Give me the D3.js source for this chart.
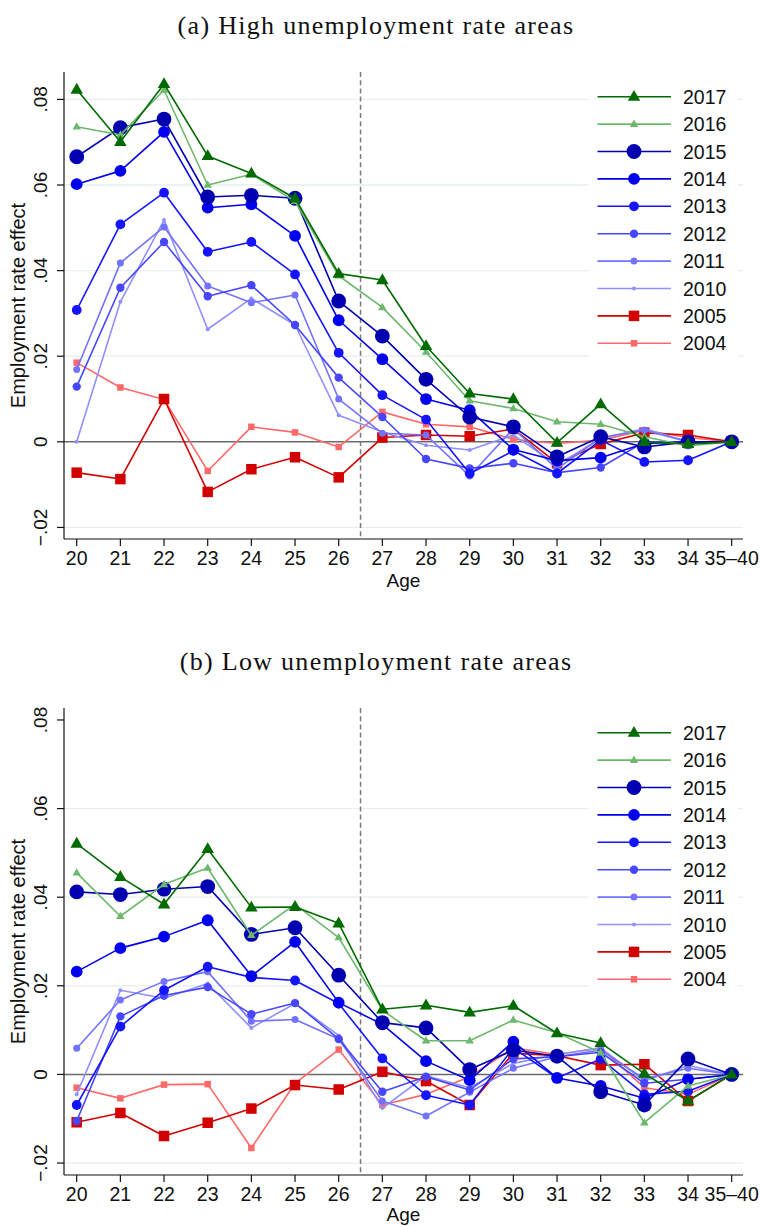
<!DOCTYPE html>
<html>
<head>
<meta charset="utf-8">
<script src="https://cdn.jsdelivr.net/npm/d3@7"></script>
<style>
  body { margin: 0; background: #fff; }
  svg { display: block; }
</style>
</head>
<body>
<svg id="chart" width="761" height="1226"></svg>
<script>
// Age groups on the x axis
const ages = ["20","21","22","23","24","25","26","27","28","29","30","31","32","33","34","35–40"];
// Cohort years, in legend order
const years = ["2017","2016","2015","2014","2013","2012","2011","2010","2005","2004"];
const yTicks = [-0.02, 0, 0.02, 0.04, 0.06, 0.08];

// (a) High unemployment rate areas
const high2017 = [0.0823, 0.0701, 0.0836, 0.0668, 0.0627, 0.0569, 0.0393, 0.0378, 0.0224, 0.0113, 0.0100, -0.0002, 0.0088, 0.0000, -0.0005, 0];
const high2016 = [0.0736, 0.0717, 0.0822, 0.0600, 0.0625, 0.0562, 0.0388, 0.0314, 0.0210, 0.0096, 0.0078, 0.0047, 0.0041, 0.0012, -0.0009, 0];
const high2015 = [0.0666, 0.0734, 0.0754, 0.0572, 0.0576, 0.0569, 0.0329, 0.0247, 0.0146, 0.0058, 0.0035, -0.0035, 0.0012, -0.0012, 0.0000, 0];
const high2014 = [0.0602, 0.0633, 0.0724, 0.0547, 0.0555, 0.0481, 0.0284, 0.0193, 0.0100, 0.0074, -0.0018, -0.0044, -0.0037, -0.0004, 0.0000, 0];
const high2013 = [0.0308, 0.0508, 0.0582, 0.0444, 0.0467, 0.0391, 0.0208, 0.0109, 0.0052, -0.0074, -0.0021, -0.0074, 0.0004, -0.0047, -0.0043, 0];
const high2012 = [0.0129, 0.0360, 0.0467, 0.0340, 0.0366, 0.0273, 0.0150, 0.0058, -0.0040, -0.0062, -0.0050, -0.0072, -0.0060, 0.0000, 0.0000, 0];
const high2011 = [0.0169, 0.0418, 0.0502, 0.0364, 0.0325, 0.0343, 0.0100, 0.0020, 0.0016, -0.0080, 0.0031, -0.0063, 0.0010, 0.0027, 0.0000, 0];
const high2010 = [0.0000, 0.0327, 0.0518, 0.0263, 0.0335, 0.0273, 0.0062, 0.0023, -0.0008, -0.0019, 0.0016, -0.0054, 0.0008, 0.0031, 0.0000, 0];
const high2005 = [-0.0072, -0.0087, 0.0100, -0.0117, -0.0064, -0.0036, -0.0083, 0.0010, 0.0016, 0.0013, 0.0030, -0.0050, -0.0005, 0.0021, 0.0016, 0];
const high2004 = [0.0185, 0.0127, 0.0099, -0.0068, 0.0035, 0.0022, -0.0012, 0.0070, 0.0041, 0.0035, 0.0006, -0.0004, 0.0004, 0.0027, 0.0010, 0];

// (b) Low unemployment rate areas
const low2017 = [0.0521, 0.0446, 0.0384, 0.0509, 0.0377, 0.0378, 0.0341, 0.0147, 0.0156, 0.0140, 0.0155, 0.0093, 0.0071, 0.0002, -0.0060, 0];
const low2016 = [0.0455, 0.0357, 0.0429, 0.0466, 0.0314, 0.0384, 0.0309, 0.0145, 0.0076, 0.0076, 0.0123, 0.0094, 0.0049, -0.0109, -0.0026, 0];
const low2015 = [0.0412, 0.0406, 0.0418, 0.0424, 0.0316, 0.0331, 0.0224, 0.0117, 0.0105, 0.0011, 0.0055, 0.0041, -0.0039, -0.0069, 0.0035, 0];
const low2014 = [0.0232, 0.0285, 0.0311, 0.0348, 0.0222, 0.0299, 0.0162, 0.0113, 0.0030, -0.0013, 0.0074, -0.0008, -0.0026, -0.0054, -0.0011, 0];
const low2013 = [-0.0069, 0.0108, 0.0190, 0.0243, 0.0219, 0.0212, 0.0160, 0.0036, -0.0047, -0.0069, 0.0060, -0.0008, 0.0035, -0.0045, -0.0038, 0];
const low2012 = [-0.0105, 0.0131, 0.0178, 0.0197, 0.0136, 0.0161, 0.0080, -0.0039, -0.0005, -0.0035, 0.0035, 0.0040, 0.0050, -0.0020, -0.0011, 0];
const low2011 = [0.0059, 0.0168, 0.0210, 0.0232, 0.0120, 0.0124, 0.0080, -0.0060, -0.0094, -0.0040, 0.0014, 0.0040, 0.0055, -0.0010, 0.0014, 0];
const low2010 = [-0.0045, 0.0190, 0.0172, 0.0205, 0.0105, 0.0160, 0.0088, -0.0076, -0.0003, -0.0030, 0.0025, 0.0045, 0.0060, -0.0015, 0.0020, 0];
const low2005 = [-0.0108, -0.0087, -0.0139, -0.0109, -0.0077, -0.0024, -0.0034, 0.0006, -0.0015, -0.0069, 0.0048, 0.0042, 0.0021, 0.0023, -0.0060, 0];
const low2004 = [-0.0030, -0.0054, -0.0023, -0.0022, -0.0166, -0.0020, 0.0056, -0.0069, -0.0045, -0.0005, 0.0060, 0.0045, 0.0060, -0.0030, -0.0045, 0];

// Line colour and marker for each cohort (same order as `years`)
const styles = [
  { color: "#006b00", shape: "triangle", size: 12.5 },
  { color: "#6cb86c", shape: "triangle", size: 8.5 },
  { color: "#0000b0", shape: "circle",   size: 7.4 },
  { color: "#0000ee", shape: "circle",   size: 5.9 },
  { color: "#1414ff", shape: "circle",   size: 4.9 },
  { color: "#4646ff", shape: "circle",   size: 4.2 },
  { color: "#7272ff", shape: "circle",   size: 3.5 },
  { color: "#9090ff", shape: "circle",   size: 2.0 },
  { color: "#d20000", shape: "square",   size: 10.5 },
  { color: "#ff6868", shape: "square",   size: 6.5 }
];

const panels = [
  {
    title: "(a) High unemployment rate areas",
    titleY: 33.5, top: 72, bottom: 539, yMin: -0.0227, yMax: 0.0864,
    series: [high2017, high2016, high2015, high2014, high2013, high2012, high2011, high2010, high2005, high2004],
    legendY: 96.7, ageY: 586.5, noGrid: []
  },
  {
    title: "(b) Low unemployment rate areas",
    titleY: 669.5, top: 708, bottom: 1175, yMin: -0.0227, yMax: 0.0827,
    series: [low2017, low2016, low2015, low2014, low2013, low2012, low2011, low2010, low2005, low2004],
    legendY: 732.7, ageY: 1220.5, noGrid: [0.08]
  }
];

const svg = d3.select("#chart");
const left = 64, right = 743;
const sans = "'Liberation Sans', Arial, Helvetica, sans-serif";
const serif = "'Liberation Serif', 'Times New Roman', serif";

const x = d3.scalePoint().domain(ages).range([76.7, 731.7]);

function fmtTick(v) {
  if (Math.abs(v) < 1e-9) return "0";
  return (v < 0 ? "\u2212" : "") + Math.abs(v).toFixed(2).replace(/^0/, "");
}

function drawMarker(g, shape, size, color, cx, cy) {
  if (shape === "circle") {
    g.append("circle").attr("cx", cx).attr("cy", cy).attr("r", size).attr("fill", color);
  } else if (shape === "square") {
    g.append("rect").attr("x", cx - size / 2).attr("y", cy - size / 2)
      .attr("width", size).attr("height", size).attr("fill", color);
  } else {
    const w = size, h = size * 0.866;
    g.append("path")
      .attr("d", `M${cx},${cy - h * 0.62}L${cx + w / 2},${cy + h * 0.38}L${cx - w / 2},${cy + h * 0.38}Z`)
      .attr("fill", color);
  }
}

panels.forEach(p => {
  const g = svg.append("g");
  const y = d3.scaleLinear().domain([p.yMin, p.yMax]).range([p.bottom, p.top]);

  // title
  g.append("text")
    .attr("x", 376).attr("y", p.titleY)
    .attr("text-anchor", "middle")
    .attr("font-family", serif).attr("font-size", 26)
    .attr("letter-spacing", 1.3)
    .attr("fill", "#111")
    .text(p.title);

  // light horizontal grid
  g.selectAll(".grid")
    .data(yTicks.filter(t => t !== 0 && !p.noGrid.includes(t)))
    .enter().append("line")
    .attr("x1", left).attr("x2", right)
    .attr("y1", d => y(d)).attr("y2", d => y(d))
    .attr("stroke", "#e6eef1").attr("stroke-width", 1.3);

  // legend background
  const rowH = 27.4;
  g.append("rect")
    .attr("x", 588).attr("y", p.legendY - 14)
    .attr("width", 150).attr("height", rowH * (years.length - 1) + 28)
    .attr("fill", "#fff");

  // zero reference line
  g.append("line")
    .attr("x1", left).attr("x2", right)
    .attr("y1", y(0)).attr("y2", y(0))
    .attr("stroke", "#6a6a6a").attr("stroke-width", 1.5);

  // dashed cut-off between 26 and 27
  const xCut = (x("26") + x("27")) / 2;
  g.append("line")
    .attr("x1", xCut).attr("x2", xCut)
    .attr("y1", p.top).attr("y2", p.bottom)
    .attr("stroke", "#7a7a7a").attr("stroke-width", 1.5)
    .attr("stroke-dasharray", "5,3.2");

  // y axis
  g.append("line").attr("x1", left).attr("x2", left).attr("y1", p.top).attr("y2", p.bottom)
    .attr("stroke", "#111").attr("stroke-width", 1.2);
  yTicks.forEach(t => {
    g.append("line").attr("x1", left - 7).attr("x2", left).attr("y1", y(t)).attr("y2", y(t))
      .attr("stroke", "#111").attr("stroke-width", 1.2);
    g.append("text")
      .attr("transform", `translate(47,${y(t)}) rotate(-90)`)
      .attr("text-anchor", "middle")
      .attr("font-family", sans).attr("font-size", 19).attr("fill", "#111")
      .text(fmtTick(t));
  });
  g.append("text")
    .attr("transform", `translate(24.5,${(p.top + p.bottom) / 2}) rotate(-90)`)
    .attr("text-anchor", "middle")
    .attr("font-family", sans).attr("font-size", 20).attr("fill", "#111")
    .text("Employment rate effect");

  // x axis
  g.append("line").attr("x1", left).attr("x2", right).attr("y1", p.bottom).attr("y2", p.bottom)
    .attr("stroke", "#111").attr("stroke-width", 1.2);
  ages.forEach(a => {
    g.append("line").attr("x1", x(a)).attr("x2", x(a)).attr("y1", p.bottom).attr("y2", p.bottom + 7)
      .attr("stroke", "#111").attr("stroke-width", 1.2);
    g.append("text")
      .attr("x", x(a)).attr("y", p.bottom + 26)
      .attr("text-anchor", "middle")
      .attr("font-family", sans).attr("font-size", 19.5).attr("fill", "#111")
      .text(a);
  });
  g.append("text")
    .attr("x", (left + right) / 2).attr("y", p.ageY)
    .attr("text-anchor", "middle")
    .attr("font-family", sans).attr("font-size", 19).attr("fill", "#111")
    .text("Age");

  // series: oldest cohort drawn first so 2017 sits on top
  const line = d3.line().x((d, i) => x(ages[i])).y(d => y(d));
  for (let k = years.length - 1; k >= 0; k--) {
    const s = styles[k], vals = p.series[k];
    const sg = g.append("g");
    sg.append("path").attr("d", line(vals))
      .attr("fill", "none").attr("stroke", s.color).attr("stroke-width", 1.6)
      .attr("stroke-linejoin", "round");
    vals.forEach((v, i) => drawMarker(sg, s.shape, s.size, s.color, x(ages[i]), y(v)));
  }

  // legend
  years.forEach((yr, k) => {
    const s = styles[k], ly = p.legendY + k * rowH;
    g.append("line").attr("x1", 597.5).attr("x2", 671).attr("y1", ly).attr("y2", ly)
      .attr("stroke", s.color).attr("stroke-width", 1.6);
    drawMarker(g, s.shape, s.size, s.color, 634, ly);
    g.append("text").attr("x", 683).attr("y", ly + 7)
      .attr("font-family", sans).attr("font-size", 19.5).attr("fill", "#111")
      .text(yr);
  });
});
</script>
</body>
</html>
